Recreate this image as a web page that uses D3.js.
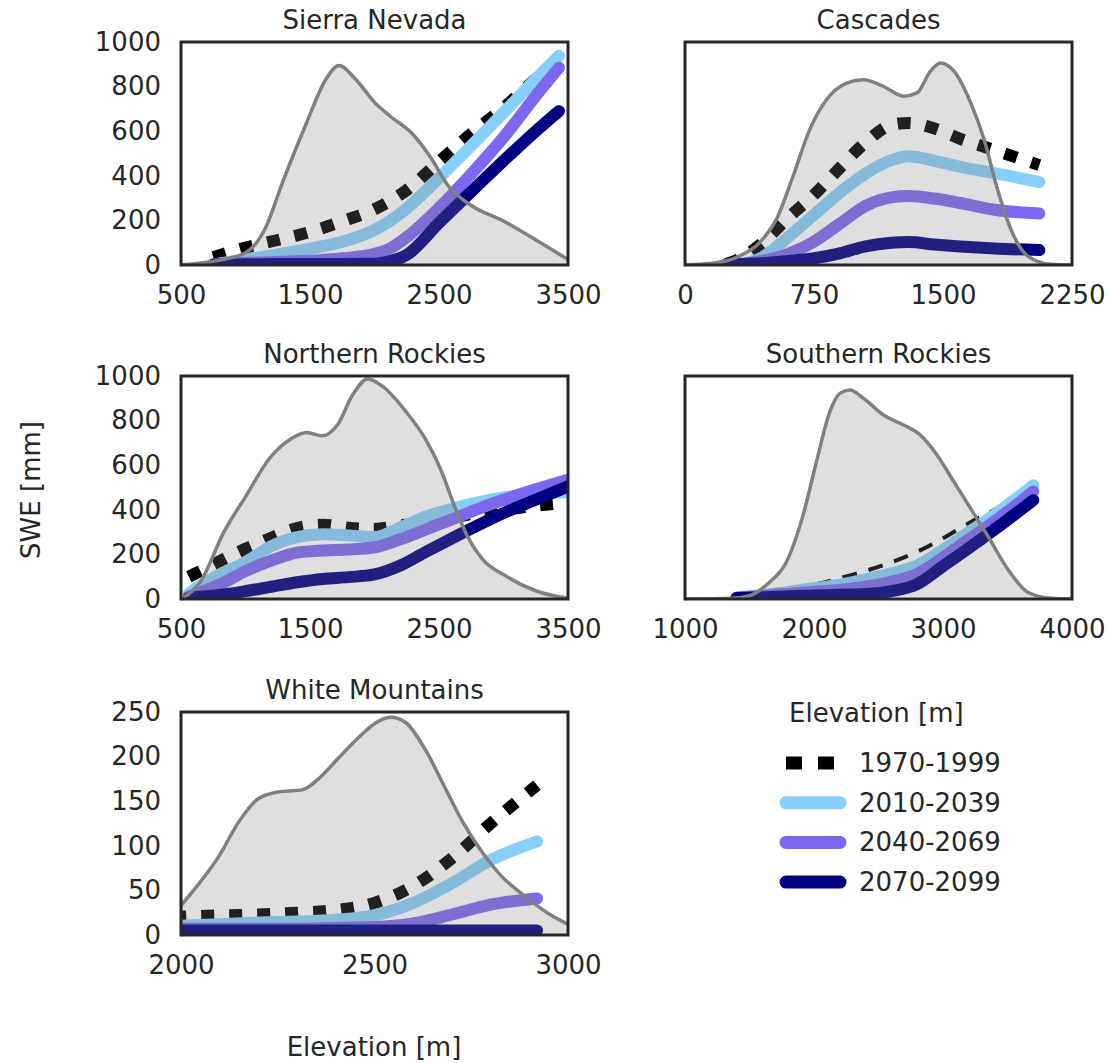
<!DOCTYPE html>
<html>
<head>
<meta charset="utf-8">
<script src="https://cdn.jsdelivr.net/npm/d3@7"></script>
<style>
body { margin: 0; background: #fff; }
text { font-family: "DejaVu Sans", sans-serif; fill: #262626; }
</style>
</head>
<body>
<svg id="chart"></svg>
<script>
// periods and region names
var periods = ["1970-1999", "2010-2039", "2040-2069", "2070-2099"];
var regions = ["Sierra Nevada", "Cascades", "Northern Rockies", "Southern Rockies", "White Mountains"];

// SWE [mm] along elevation [m], one row per period
var sierraElev = [750, 1000, 1250, 1500, 1750, 2000, 2100, 2250, 2500, 2750, 3000, 3250, 3430];
var sierraSwe = [
    [35, 78, 112, 148, 196, 250, 280, 336, 463, 589, 705, 835, 932],
    [3, 25, 47, 73, 104, 158, 190, 254, 390, 535, 683, 834, 938],
    [2, 9, 14, 19, 30, 50, 68, 125, 256, 408, 572, 758, 885],
    [2, 3, 4, 5, 5, 6, 14, 45, 188, 329, 467, 600, 690]
];
var cascadesElev = [240, 320, 450, 600, 750, 900, 1050, 1200, 1300, 1450, 1600, 1800, 2060];
var cascadesSwe = [
    [5, 28, 100, 212, 315, 435, 550, 628, 637, 612, 566, 515, 448],
    [0, 3, 35, 125, 225, 325, 410, 470, 488, 467, 440, 412, 372],
    [0, 2, 18, 50, 105, 185, 265, 303, 309, 298, 278, 248, 231],
    [3, 5, 8, 18, 30, 52, 84, 100, 103, 92, 83, 74, 67]
];
var nRockiesElev = [560, 650, 800, 1000, 1200, 1400, 1600, 1800, 2000, 2200, 2400, 2600, 2800, 3000, 3250, 3500];
var nRockiesSwe = [
    [100, 125, 170, 225, 275, 318, 333, 320, 314, 330, 345, 365, 385, 400, 418, 432],
    [25, 60, 110, 165, 237, 278, 290, 285, 278, 320, 370, 405, 433, 455, 470, 480],
    [12, 30, 65, 125, 172, 208, 218, 222, 232, 268, 312, 357, 403, 445, 492, 535],
    [5, 10, 18, 35, 55, 75, 90, 98, 110, 150, 212, 272, 330, 385, 445, 505]
];
var sRockiesElev = [1400, 1600, 1800, 2000, 2200, 2400, 2600, 2800, 3000, 3200, 3400, 3700];
var sRockiesSwe = [
    [3, 25, 45, 64, 93, 126, 165, 212, 272, 340, 400, 505],
    [7, 18, 32, 48, 64, 88, 115, 150, 220, 300, 378, 510],
    [6, 14, 24, 32, 40, 55, 77, 112, 185, 268, 348, 482],
    [5, 8, 12, 16, 19, 22, 35, 67, 147, 228, 312, 443]
];
var whiteElev = [1980, 2100, 2200, 2300, 2400, 2500, 2600, 2700, 2800, 2920];
var whiteSwe = [
    [20, 22, 23, 25, 28, 36, 55, 86, 125, 168],
    [10, 12, 14, 15, 17, 22, 36, 58, 84, 105],
    [7, 7, 7, 7, 8, 9, 13, 23, 34, 41],
    [5, 5, 5, 5, 5, 5, 5, 5, 5, 5]
];

// elevation distribution (percent of panel height)
var sierraDensElev = [500, 765, 1000, 1150, 1296, 1473, 1621, 1724, 1857, 2004, 2122, 2299, 2446, 2565, 2742, 3007, 3243, 3500];
var sierraDens = [0, 1.8, 5.5, 16, 38.4, 63.7, 83.1, 89.5, 83.1, 72.7, 66.7, 58.5, 47.3, 36, 27, 19.5, 11.5, 2.5];
var cascadesDensElev = [0, 179, 316, 433, 531, 628, 725, 823, 940, 1037, 1154, 1271, 1349, 1427, 1485, 1564, 1661, 1739, 1817, 1895, 1993, 2129, 2250];
var cascadesDens = [0, 1, 4, 10, 20.4, 39.8, 60.7, 74.2, 81.6, 83.1, 80.1, 75.7, 77.2, 86.9, 90.6, 86.9, 72.7, 56.3, 33.9, 16, 4, 0.3, 0];
var nRockiesDensElev = [500, 648, 832, 1007, 1185, 1357, 1475, 1594, 1712, 1830, 1948, 2066, 2244, 2392, 2510, 2628, 2717, 2835, 3012, 3249, 3500];
var nRockiesDens = [0, 7.5, 30, 46.5, 63, 72, 74.7, 73.2, 78, 91.5, 98.7, 95.2, 84, 72, 58.5, 40.5, 28.5, 18, 10.5, 3.7, 0.3];
var sRockiesDensElev = [1000, 1369, 1499, 1655, 1785, 1915, 2019, 2123, 2201, 2279, 2383, 2539, 2695, 2825, 2955, 3085, 3215, 3345, 3501, 3657, 3839, 4000];
var sRockiesDens = [0, 0.3, 1.5, 7.5, 16.5, 37.5, 61.5, 84, 92.2, 93.7, 90, 82.5, 78, 73.5, 64.5, 52.5, 40.5, 28.5, 13.5, 3, 0.3, 0];
var whiteDensElev = [2000, 2049, 2099, 2148, 2197, 2246, 2315, 2355, 2404, 2453, 2512, 2542, 2581, 2631, 2680, 2729, 2778, 2828, 2887, 2946, 3000];
var whiteDens = [13.2, 23.6, 35.6, 50.4, 60.8, 64, 65.2, 70, 78.8, 87.6, 96, 97.6, 95.2, 83.2, 66.8, 50.4, 37.2, 26.4, 17.6, 10, 4.8];

// tick labels
var sierraXTicks = [500, 1500, 2500, 3500];
var cascadesXTicks = [0, 750, 1500, 2250];
var nRockiesXTicks = [500, 1500, 2500, 3500];
var sRockiesXTicks = [1000, 2000, 3000, 4000];
var whiteXTicks = [2000, 2500, 3000];
var sweTicks = [0, 200, 400, 600, 800, 1000];
var whiteSweTicks = [0, 50, 100, 150, 200, 250];

var colors = ["#000000", "#87cefa", "#7b68ee", "#000080"];

var W = 1109, H = 1063;
var pw = 387, ph = 223;
var fs = "26px";

var panels = [
    { name: regions[0], left: 181, top: 42, elev: sierraElev, swe: sierraSwe, dElev: sierraDensElev, dens: sierraDens,
      xTicks: sierraXTicks, yTicks: sweTicks, showY: true, thin: false },
    { name: regions[1], left: 685, top: 42, elev: cascadesElev, swe: cascadesSwe, dElev: cascadesDensElev, dens: cascadesDens,
      xTicks: cascadesXTicks, yTicks: sweTicks, showY: false, thin: false },
    { name: regions[2], left: 181, top: 376, elev: nRockiesElev, swe: nRockiesSwe, dElev: nRockiesDensElev, dens: nRockiesDens,
      xTicks: nRockiesXTicks, yTicks: sweTicks, showY: true, thin: false },
    { name: regions[3], left: 685, top: 376, elev: sRockiesElev, swe: sRockiesSwe, dElev: sRockiesDensElev, dens: sRockiesDens,
      xTicks: sRockiesXTicks, yTicks: sweTicks, showY: false, thin: true },
    { name: regions[4], left: 181, top: 712, elev: whiteElev, swe: whiteSwe, dElev: whiteDensElev, dens: whiteDens,
      xTicks: whiteXTicks, yTicks: whiteSweTicks, showY: true, thin: false }
];

var svg = d3.select("#chart")
    .attr("width", W)
    .attr("height", H)
    .style("background", "#fff");

panels.forEach(function (p, i) {
    var x = d3.scaleLinear()
        .domain([p.xTicks[0], p.xTicks[p.xTicks.length - 1]])
        .range([0, pw]);
    var y = d3.scaleLinear()
        .domain([p.yTicks[0], p.yTicks[p.yTicks.length - 1]])
        .range([ph, 0]);
    var yd = d3.scaleLinear().domain([0, 100]).range([ph, 0]);

    var g = svg.append("g").attr("transform", "translate(" + p.left + "," + p.top + ")");

    g.append("clipPath").attr("id", "clip" + i)
        .append("rect").attr("width", pw).attr("height", ph);

    var plot = g.append("g").attr("clip-path", "url(#clip" + i + ")");

    var line = d3.line()
        .x(function (d) { return x(d[0]); })
        .y(function (d) { return y(d[1]); })
        .curve(d3.curveMonotoneX);

    p.swe.forEach(function (vals, k) {
        var pts = p.elev.map(function (e, j) { return [e, vals[j]]; });
        var path = plot.append("path")
            .attr("d", line(pts))
            .attr("fill", "none")
            .attr("stroke", colors[k]);
        if (k === 0) {
            if (p.thin) {
                path.attr("stroke-width", 4).attr("stroke-dasharray", "15,12");
            } else {
                path.attr("stroke-width", 12).attr("stroke-dasharray", "13,15");
            }
        } else {
            path.attr("stroke-width", 12).attr("stroke-linecap", "round").attr("stroke-linejoin", "round");
        }
    });

    // elevation distribution on top, semi transparent
    var dpts = p.dElev.map(function (e, j) { return [e, p.dens[j]]; });
    var area = d3.area()
        .x(function (d) { return x(d[0]); })
        .y0(ph)
        .y1(function (d) { return yd(d[1]); })
        .curve(d3.curveMonotoneX);
    var dline = d3.line()
        .x(function (d) { return x(d[0]); })
        .y(function (d) { return yd(d[1]); })
        .curve(d3.curveMonotoneX);
    plot.append("path").attr("d", area(dpts)).attr("fill", "#808080").attr("fill-opacity", 0.25);
    plot.append("path").attr("d", dline(dpts)).attr("fill", "none").attr("stroke", "#808080").attr("stroke-width", 3.5);

    g.append("rect")
        .attr("width", pw).attr("height", ph)
        .attr("fill", "none")
        .attr("stroke", "#262626")
        .attr("stroke-width", 3);

    var xa = g.append("g").attr("transform", "translate(0," + ph + ")")
        .call(d3.axisBottom(x).tickValues(p.xTicks).tickFormat(d3.format("d")).tickSize(0).tickPadding(21));
    xa.select(".domain").remove();
    xa.selectAll("text").style("font-size", fs).style("font-family", "DejaVu Sans").attr("fill", "#262626");

    if (p.showY) {
        var ya = g.append("g")
            .call(d3.axisLeft(y).tickValues(p.yTicks).tickFormat(d3.format("d")).tickSize(0).tickPadding(20));
        ya.select(".domain").remove();
        ya.selectAll("text").style("font-size", fs).style("font-family", "DejaVu Sans").attr("fill", "#262626");
    }

    g.append("text")
        .attr("x", pw / 2).attr("y", -13)
        .attr("text-anchor", "middle")
        .style("font-size", fs)
        .text(p.name);
});

// axis labels
svg.append("text")
    .attr("transform", "translate(40,490) rotate(-90)")
    .attr("text-anchor", "middle")
    .style("font-size", fs)
    .text("SWE [mm]");
svg.append("text")
    .attr("x", 374).attr("y", 1056)
    .attr("text-anchor", "middle")
    .style("font-size", fs)
    .text("Elevation [m]");

// legend
var leg = svg.append("g");
leg.append("text").attr("x", 789).attr("y", 722).style("font-size", fs).text("Elevation [m]");
periods.forEach(function (p, k) {
    var cy = 763 + k * 39.7;
    var l = leg.append("line")
        .attr("y1", cy).attr("y2", cy)
        .attr("stroke", colors[k]);
    if (k === 0) {
        l.attr("x1", 786).attr("x2", 834).attr("stroke-width", 13).attr("stroke-dasharray", "16,16");
    } else {
        l.attr("x1", 786).attr("x2", 840).attr("stroke-width", 13).attr("stroke-linecap", "round");
    }
    leg.append("text").attr("x", 859).attr("y", cy + 9).style("font-size", fs).text(p);
});
</script>
</body>
</html>
